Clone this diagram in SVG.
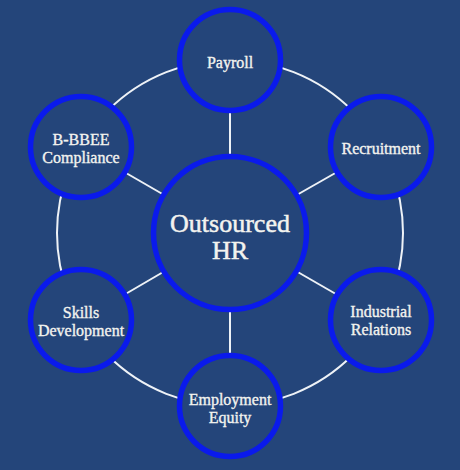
<svg xmlns="http://www.w3.org/2000/svg" width="460" height="470" viewBox="0 0 460 470">
<style>
.node{fill:#24457a;stroke:#0a1aec;stroke-width:5.5}
.con{stroke:#eef2f7;stroke-width:2;fill:none}
text{font-family:"Liberation Serif","Times New Roman",serif;fill:#f3f3ef;stroke:#f3f3ef;stroke-width:0.35;text-anchor:middle}
.t{font-size:16px}
.c{font-size:26px;stroke-width:0.5}
</style>
<rect width="460" height="470" fill="#24457a"/>
<g id="connectors">
<circle class="con" cx="230" cy="233" r="173"/>
<line class="con" x1="230" y1="233" x2="230" y2="60"/>
<line class="con" x1="230" y1="233" x2="230" y2="406"/>
<line class="con" x1="230" y1="233" x2="81" y2="147"/>
<line class="con" x1="230" y1="233" x2="381" y2="147"/>
<line class="con" x1="230" y1="233" x2="81" y2="320"/>
<line class="con" x1="230" y1="233" x2="381" y2="320"/>
</g>
<g id="center">
<circle class="node" cx="230" cy="233" r="76.5"/>
<text class="c" x="230" y="232">Outsourced</text>
<text class="c" x="230" y="259">HR</text>
</g>
<g id="payroll">
<circle class="node" cx="230" cy="60" r="50.5"/>
<text class="t" x="230" y="68">Payroll</text>
</g>
<g id="recruitment">
<circle class="node" cx="381" cy="147" r="50.5"/>
<text class="t" x="381" y="154">Recruitment</text>
</g>
<g id="industrial-relations">
<circle class="node" cx="381" cy="320" r="50.5"/>
<text class="t" x="381" y="317">Industrial</text>
<text class="t" x="381" y="335">Relations</text>
</g>
<g id="employment-equity">
<circle class="node" cx="230" cy="406" r="50.5"/>
<text class="t" x="230" y="405">Employment</text>
<text class="t" x="230" y="423">Equity</text>
</g>
<g id="skills-development">
<circle class="node" cx="81" cy="320" r="50.5"/>
<text class="t" x="81" y="318">Skills</text>
<text class="t" x="81" y="336">Development</text>
</g>
<g id="bbbee-compliance">
<circle class="node" cx="81" cy="147" r="50.5"/>
<text class="t" x="81" y="145">B-BBEE</text>
<text class="t" x="81" y="163">Compliance</text>
</g>
</svg>
